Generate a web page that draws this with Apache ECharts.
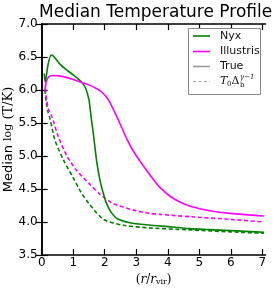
<!DOCTYPE html>
<html><head><meta charset="utf-8">
<script src="https://cdn.jsdelivr.net/npm/echarts@6/dist/echarts.min.js"></script>
<style>html,body{margin:0;padding:0;background:#fff}#c{width:277px;height:289px}</style>
</head><body><div id="c"></div>
<script>
// ---- data ----
const xTicks = [0, 1, 2, 3, 4, 5, 6, 7];
const yTicks = [3.5, 4.0, 4.5, 5.0, 5.5, 6.0, 6.5, 7.0];
const nyxTrue = [[0.08,6.25],[0.11,6.12],[0.2,6.38],[0.3,6.53],[0.4,6.50],[0.6,6.38],[0.8,6.30],[1.0,6.23],[1.2,6.15],[1.3,6.10],[1.4,6.02],[1.5,5.85],[1.57,5.58],[1.64,5.33],[1.75,4.9],[1.85,4.63],[1.95,4.44],[2.05,4.29],[2.2,4.15],[2.4,4.05],[2.8,3.99],[3.4,3.955],[4.0,3.93],[4.7,3.90],[5.3,3.885],[6.0,3.87],[7.05,3.845]];
const nyxFit = [[0.1,6.0],[0.15,5.8],[0.2,5.67],[0.26,5.57],[0.42,5.24],[0.69,4.94],[1.0,4.67],[1.25,4.45],[1.53,4.26],[1.96,4.04],[2.59,3.95],[3.44,3.91],[4.7,3.88],[6.0,3.85],[7.05,3.83]];
const illTrue = [[0.1,6.0],[0.15,6.13],[0.22,6.2],[0.35,6.22],[0.6,6.21],[1.0,6.16],[1.3,6.11],[1.53,6.07],[1.75,6.02],[1.9,5.97],[2.06,5.89],[2.2,5.78],[2.38,5.60],[2.55,5.42],[2.7,5.26],[2.9,5.08],[3.12,4.92],[3.33,4.78],[3.55,4.64],[3.76,4.52],[4.07,4.39],[4.4,4.30],[4.71,4.24],[5.34,4.17],[5.98,4.13],[7.05,4.09]];
const illFit = [[0.12,6.02],[0.16,5.85],[0.22,5.7],[0.32,5.6],[0.53,5.29],[0.79,5.01],[1.11,4.78],[1.53,4.57],[1.85,4.42],[2.27,4.28],[2.91,4.18],[3.44,4.13],[3.76,4.115],[4.71,4.08],[5.98,4.04],[7.05,4.0]];

const GREEN = '#008000', MAG = '#ff00ff';
const SANS = 'DejaVu Sans', SERIF = 'DejaVu Serif';
const chart = echarts.init(document.getElementById('c'), null, {renderer:'canvas'});
const axLine = {lineStyle:{color:'#000', width:1.6}};
const tick = (vals)=>({inside:true, length:6, customValues: vals, lineStyle:{color:'#000', width:1.2}});
function line(data, color, dashed){
  return {type:'line', data, symbol:'none', smooth:0.25, xAxisIndex:0, yAxisIndex:0,
    lineStyle:{color, width:1.6, type: dashed?[4,2.6]:'solid'}, z: dashed?2:3, animation:false};
}
chart.setOption({
  animation:false,
  title:{text:'Median Temperature Profile', left:34, top:-1,
    textStyle:{fontFamily:SANS, fontWeight:'normal', fontSize:17, color:'#000'}},
  grid:{left:41.7, right:11.5, top:24, bottom:34, containLabel:false, outerBoundsMode:'none'},
  xAxis:[
    {type:'value', min:0, max:7.1, position:'bottom', axisLine:axLine, axisTick:tick(xTicks), splitLine:{show:false},
     axisLabel:{customValues:xTicks, margin:2, fontFamily:SANS, fontSize:12, color:'#000', formatter:v=>String(v)},
     name:'{a|(}{i|r}{a|/}{i|r}{s|vir}{a|)}', nameLocation:'middle', nameGap:19, nameMoveOverlap:false,
     nameTextStyle:{rich:{a:{fontFamily:SERIF, fontSize:12, color:'#000'}, i:{fontFamily:SERIF, fontStyle:'italic', fontSize:12, color:'#000'}, s:{fontFamily:SERIF, fontSize:8, color:'#000', verticalAlign:'bottom'}}}},
    {type:'value', min:0, max:7.1, position:'top', axisLine:axLine, axisTick:tick(xTicks), axisLabel:{show:false}, splitLine:{show:false}}
  ],
  yAxis:[
    {type:'value', min:3.5, max:7.0, interval:0.5, position:'left', axisLine:axLine, axisTick:tick(yTicks), splitLine:{show:false},
     axisLabel:{customValues:yTicks, margin:4, fontFamily:SANS, fontSize:12, color:'#000', formatter:v=>v.toFixed(1)},
     name:'{a|Median }{b|log}{c| (T/K)}', nameLocation:'middle', nameGap:27, nameRotate:90, nameMoveOverlap:false,
     nameTextStyle:{rich:{a:{fontFamily:SANS, fontSize:13, color:'#000'}, b:{fontFamily:SERIF, fontSize:11, color:'#000'}, c:{fontFamily:SERIF, fontSize:13, color:'#000'}}}},
    {type:'value', min:3.5, max:7.0, interval:0.5, position:'right', axisLine:axLine, axisTick:tick(yTicks), axisLabel:{show:false}, splitLine:{show:false}}
  ],
  series:[line(nyxFit, GREEN, true), line(illFit, MAG, true), line(nyxTrue, GREEN, false), line(illTrue, MAG, false)],
  graphic:[
    {type:'rect', shape:{x:188.5, y:28.5, width:72, height:66}, style:{fill:'#fff', stroke:'#888', lineWidth:1}, z:10},
    {type:'line', shape:{x1:193, y1:36, x2:210, y2:36}, style:{stroke:GREEN, lineWidth:1.6}, z:11},
    {type:'line', shape:{x1:193, y1:51.5, x2:210, y2:51.5}, style:{stroke:MAG, lineWidth:1.6}, z:11},
    {type:'line', shape:{x1:193, y1:66.5, x2:210, y2:66.5}, style:{stroke:'#999', lineWidth:1.6}, z:11},
    {type:'line', shape:{x1:193, y1:81.5, x2:210, y2:81.5}, style:{stroke:'#999', lineWidth:1.2, lineDash:[3,2.5]}, z:11},
    {type:'text', x:220, y:36, style:{text:'Nyx', font:'11px "DejaVu Sans"', fill:'#111', verticalAlign:'middle'}, z:11},
    {type:'text', x:220, y:51.5, style:{text:'Illustris', font:'11px "DejaVu Sans"', fill:'#111', verticalAlign:'middle'}, z:11},
    {type:'text', x:220, y:66.5, style:{text:'True', font:'11px "DejaVu Sans"', fill:'#111', verticalAlign:'middle'}, z:11},
    {type:'text', x:220, y:81.5, style:{text:'T', font:'italic 11px "DejaVu Serif"', fill:'#111', verticalAlign:'middle'}, z:11},
    {type:'text', x:227, y:84, style:{text:'0', font:'7px "DejaVu Serif"', fill:'#111', verticalAlign:'middle'}, z:11},
    {type:'text', x:231.5, y:81.5, style:{text:'Δ', font:'11px "DejaVu Serif"', fill:'#111', verticalAlign:'middle'}, z:11},
    {type:'text', x:240, y:85, style:{text:'b', font:'7px "DejaVu Serif"', fill:'#111', verticalAlign:'middle'}, z:11},
    {type:'text', x:240, y:77, style:{text:'γ−1', font:'italic 7px "DejaVu Serif"', fill:'#111', verticalAlign:'middle'}, z:11}
  ]
});
</script></body></html>
